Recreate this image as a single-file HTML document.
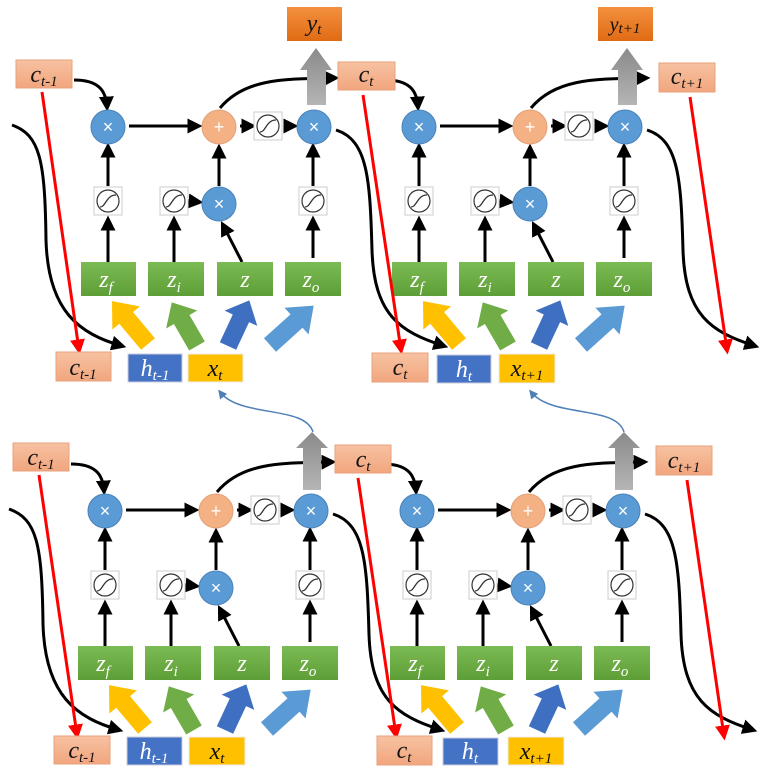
<!DOCTYPE html>
<html><head><meta charset="utf-8"><style>
html,body{margin:0;padding:0;background:#fff;}
svg{display:block;}
.op{font-family:"Liberation Sans",sans-serif;fill:#fff;font-size:18px;text-anchor:middle;}
.zl{font-family:"Liberation Serif","DejaVu Serif",serif;font-style:italic;fill:#fff;font-size:24px;text-anchor:middle;}
.bl{font-family:"Liberation Serif","DejaVu Serif",serif;font-style:italic;fill:#111;font-size:24px;text-anchor:middle;}
</style></head><body>
<svg width="765" height="774" viewBox="0 0 765 774" xmlns="http://www.w3.org/2000/svg">
<defs>
<marker id="ah" markerWidth="5" markerHeight="5" refX="3.5" refY="2.5" orient="auto" markerUnits="strokeWidth"><path d="M0,0 L5,2.5 L0,5 z" fill="#000"/></marker>
<marker id="rh" markerWidth="5" markerHeight="5" refX="3.5" refY="2.5" orient="auto" markerUnits="strokeWidth"><path d="M0,0 L5,2.5 L0,5 z" fill="#f00"/></marker>
<marker id="bh" markerWidth="6" markerHeight="6" refX="4" refY="3" orient="auto" markerUnits="strokeWidth"><path d="M0,0 L6,3 L0,6 z" fill="#4f7fb8"/></marker>
<linearGradient id="gg" x1="0" y1="0" x2="0" y2="1"><stop offset="0" stop-color="#7cbb54"/><stop offset="1" stop-color="#5e9e36"/></linearGradient>
<linearGradient id="og" x1="0" y1="0" x2="0" y2="1"><stop offset="0" stop-color="#f4903e"/><stop offset="1" stop-color="#e06b14"/></linearGradient>
<linearGradient id="sg" x1="0" y1="0" x2="0" y2="1"><stop offset="0" stop-color="#f7c2a2"/><stop offset="1" stop-color="#f1a67e"/></linearGradient>
<linearGradient id="grg" x1="0" y1="0" x2="0" y2="1"><stop offset="0" stop-color="#8a8a8a"/><stop offset="1" stop-color="#b5b5b5"/></linearGradient>
<g id="sig"><rect x="-14" y="-14" width="28" height="28" fill="#fff" stroke="#ccc" stroke-width="1"/><circle r="11" fill="#fff" stroke="#333" stroke-width="1.2"/><path d="M-8,6 C-2,6 -2,-6 8,-6" fill="none" stroke="#333" stroke-width="1.3"/></g>
<polygon id="fat" points="-9,0 9,0 9,-34 18,-34 0,-56 -18,-34 -9,-34"/>
<g id="cell">
 <g stroke="#000" stroke-width="3" fill="none" marker-end="url(#ah)">
  <path d="M74,80 C98,80 106,90 107,107"/>
  <path d="M129,126 L198,126"/>
  <path d="M240,126 L252,126"/>
  <path d="M284,126 L294,126"/>
  <path d="M108,262 L108,220"/>
  <path d="M108,186 L108,147"/>
  <path d="M174,262 L174,220"/>
  <path d="M189,201 L199,202"/>
  <path d="M242,262 L223,225"/>
  <path d="M219,186 L219,148"/>
  <path d="M313,258 L313,220"/>
  <path d="M313,186 L313,147"/>
  <path d="M220,108 C245,78 285,79 335,78"/>
  <path d="M336,130 C368,140 370,180 372,250 C374,315 400,332 444,346"/>
 </g>
 <circle cx="108" cy="127" r="17" fill="#5b9bd5" stroke="#4a82b8"/>
 <circle cx="219" cy="127" r="17" fill="#f4b183" stroke="#e3a07a"/>
 <circle cx="314" cy="127" r="17" fill="#5b9bd5" stroke="#4a82b8"/>
 <circle cx="219" cy="204" r="17" fill="#5b9bd5" stroke="#4a82b8"/>
 <use href="#sig" x="268" y="126"/>
 <use href="#sig" x="108" y="201"/>
 <use href="#sig" x="174" y="201"/>
 <use href="#sig" x="313" y="201"/>
 <rect x="81" y="262" width="55" height="34" fill="url(#gg)"/>
 <rect x="148" y="262" width="56" height="34" fill="url(#gg)"/>
 <rect x="217" y="262" width="56" height="34" fill="url(#gg)"/>
 <rect x="285" y="262" width="56" height="34" fill="url(#gg)"/>
 <use href="#fat" fill="#ffc000" transform="translate(148,344) rotate(-40)"/>
 <use href="#fat" fill="#70ad47" transform="translate(197,346) rotate(-30) scale(1,0.9)"/>
 <use href="#fat" fill="#3f6fc0" transform="translate(228,346) rotate(25) scale(1,0.9)"/>
 <use href="#fat" fill="#5b9bd5" transform="translate(270,345) rotate(48) scale(1,1.05)"/>
</g>
</defs>

<use href="#cell" x="0" y="0"/>
<use href="#cell" x="311" y="0"/>
<use href="#cell" x="-3" y="384"/>
<use href="#cell" x="309" y="384"/>

<g stroke="#000" stroke-width="3" fill="none" marker-end="url(#ah)">
 <path d="M12,125 C40,135 45,160 46,240 C48,312 80,334 122,346"/>
 <path d="M9,509 C37,519 42,544 43,624 C45,696 77,718 119,730"/>
</g>

<path d="M307,105 L307,70 L300,70 L316,48 L332,70 L326,70 L326,105 Z" fill="url(#grg)"/>
<path d="M618,105 L618,70 L611,70 L627,48 L643,70 L637,70 L637,105 Z" fill="url(#grg)"/>
<path d="M303,490 L303,448 L296,448 L312,432 L328,448 L321,448 L321,490 Z" fill="url(#grg)"/>
<path d="M615,490 L615,448 L608,448 L624,432 L640,448 L633,448 L633,490 Z" fill="url(#grg)"/>

<path d="M313,432 C305,405 240,418 220,392" fill="none" stroke="#4f7fb8" stroke-width="1.5" marker-end="url(#bh)"/>
<path d="M624,432 C616,405 552,418 531,392" fill="none" stroke="#4f7fb8" stroke-width="1.5" marker-end="url(#bh)"/>

<g stroke="#f00" stroke-width="3" fill="none" marker-end="url(#rh)">
 <path d="M42,92 L79,350"/>
 <path d="M363,95 L401,350"/>
 <path d="M690,97 L727,350"/>
 <path d="M39,475 L77,735"/>
 <path d="M358,478 L396,735"/>
 <path d="M687,480 L724,736"/>
</g>

<rect x="287" y="7" width="55" height="34" fill="url(#og)"/>
<rect x="598" y="7" width="55" height="34" fill="url(#og)"/>
<rect x="16" y="60" width="56" height="28" fill="url(#sg)" stroke="#e8a27c"/>
<rect x="338" y="62" width="57" height="28" fill="url(#sg)" stroke="#e8a27c"/>
<rect x="659" y="63" width="56" height="29" fill="url(#sg)" stroke="#e8a27c"/>
<rect x="13" y="443" width="56" height="28" fill="url(#sg)" stroke="#e8a27c"/>
<rect x="335" y="445" width="56" height="28" fill="url(#sg)" stroke="#e8a27c"/>
<rect x="656" y="446" width="56" height="29" fill="url(#sg)" stroke="#e8a27c"/>

<rect x="56" y="352" width="55" height="29" fill="url(#sg)" stroke="#e8a27c"/>
<rect x="128" y="354" width="54" height="28" fill="#4472c4" stroke="#ccd"/>
<rect x="188" y="354" width="55" height="28" fill="#ffc000" stroke="#eee"/>
<rect x="372" y="353" width="56" height="29" fill="url(#sg)" stroke="#e8a27c"/>
<rect x="437" y="355" width="54" height="28" fill="#4472c4" stroke="#ccd"/>
<rect x="499" y="354" width="56" height="29" fill="#ffc000" stroke="#eee"/>

<rect x="54" y="736" width="56" height="28" fill="url(#sg)" stroke="#e8a27c"/>
<rect x="127" y="737" width="55" height="28" fill="#4472c4" stroke="#ccd"/>
<rect x="189" y="737" width="56" height="28" fill="#ffc000" stroke="#eee"/>
<rect x="377" y="736" width="55" height="29" fill="url(#sg)" stroke="#e8a27c"/>
<rect x="443" y="738" width="55" height="27" fill="#4472c4" stroke="#ccd"/>
<rect x="508" y="737" width="56" height="28" fill="#ffc000" stroke="#eee"/>

<g class="op">
 <text x="108" y="133">×</text><text x="219" y="133">+</text><text x="314" y="133">×</text><text x="219" y="210">×</text>
 <text x="419" y="133">×</text><text x="530" y="133">+</text><text x="625" y="133">×</text><text x="530" y="210">×</text>
 <text x="105" y="517">×</text><text x="216" y="517">+</text><text x="311" y="517">×</text><text x="216" y="594">×</text>
 <text x="417" y="517">×</text><text x="528" y="517">+</text><text x="623" y="517">×</text><text x="528" y="594">×</text>
</g>
<g class="zl">
 <text x="106" y="287">z<tspan font-size="15" dy="5">f</tspan></text>
 <text x="174" y="287">z<tspan font-size="15" dy="5">i</tspan></text>
 <text x="245" y="287">z</text>
 <text x="311" y="287">z<tspan font-size="15" dy="5">o</tspan></text>
 <text x="417" y="287">z<tspan font-size="15" dy="5">f</tspan></text>
 <text x="485" y="287">z<tspan font-size="15" dy="5">i</tspan></text>
 <text x="556" y="287">z</text>
 <text x="622" y="287">z<tspan font-size="15" dy="5">o</tspan></text>
 <text x="103" y="671">z<tspan font-size="15" dy="5">f</tspan></text>
 <text x="171" y="671">z<tspan font-size="15" dy="5">i</tspan></text>
 <text x="242" y="671">z</text>
 <text x="308" y="671">z<tspan font-size="15" dy="5">o</tspan></text>
 <text x="415" y="671">z<tspan font-size="15" dy="5">f</tspan></text>
 <text x="483" y="671">z<tspan font-size="15" dy="5">i</tspan></text>
 <text x="554" y="671">z</text>
 <text x="620" y="671">z<tspan font-size="15" dy="5">o</tspan></text>
</g>
<g class="bl">
 <text x="314" y="31">y<tspan font-size="15" dy="3">t</tspan></text>
 <text x="625" y="31" font-size="20">y<tspan font-size="15" dy="2">t+1</tspan></text>
 <text x="44" y="82">c<tspan font-size="15" dy="4">t-1</tspan></text>
 <text x="366" y="82">c<tspan font-size="15" dy="4">t</tspan></text>
 <text x="687" y="84">c<tspan font-size="15" dy="4">t+1</tspan></text>
 <text x="41" y="465">c<tspan font-size="15" dy="4">t-1</tspan></text>
 <text x="363" y="467">c<tspan font-size="15" dy="4">t</tspan></text>
 <text x="684" y="468">c<tspan font-size="15" dy="4">t+1</tspan></text>
 <text x="83" y="375">c<tspan font-size="15" dy="4">t-1</tspan></text>
 <text x="155" y="376" fill="#fff">h<tspan font-size="15" dy="4">t-1</tspan></text>
 <text x="215" y="376">x<tspan font-size="15" dy="4">t</tspan></text>
 <text x="400" y="375">c<tspan font-size="15" dy="4">t</tspan></text>
 <text x="464" y="377" fill="#fff">h<tspan font-size="15" dy="4">t</tspan></text>
 <text x="527" y="376">x<tspan font-size="15" dy="4">t+1</tspan></text>
 <text x="82" y="758">c<tspan font-size="15" dy="4">t-1</tspan></text>
 <text x="154" y="759" fill="#fff">h<tspan font-size="15" dy="4">t-1</tspan></text>
 <text x="217" y="759">x<tspan font-size="15" dy="4">t</tspan></text>
 <text x="404" y="758">c<tspan font-size="15" dy="4">t</tspan></text>
 <text x="470" y="759" fill="#fff">h<tspan font-size="15" dy="4">t</tspan></text>
 <text x="536" y="759">x<tspan font-size="15" dy="4">t+1</tspan></text>
</g>
</svg>
</body></html>
